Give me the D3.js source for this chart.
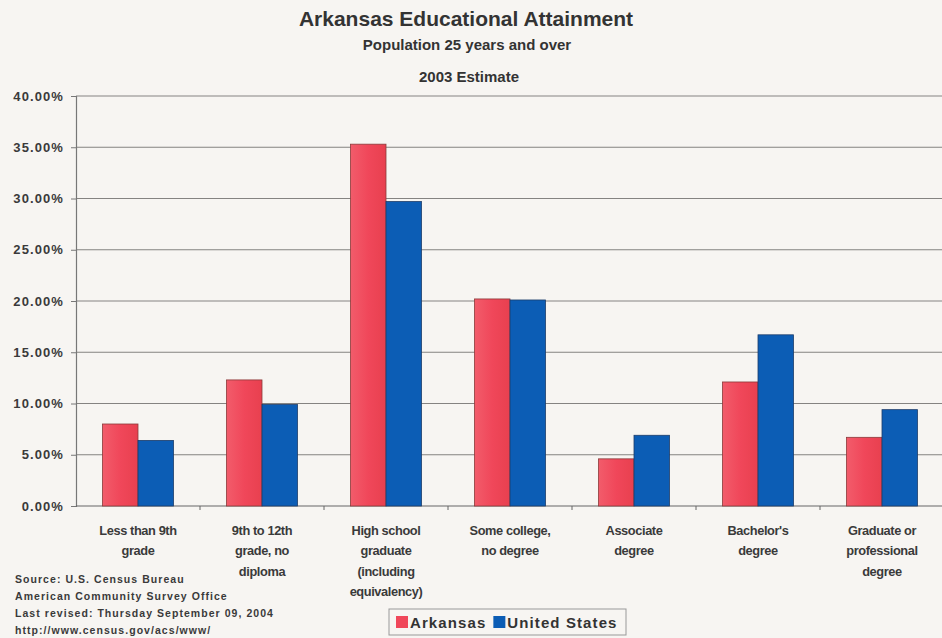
<!DOCTYPE html>
<html><head><meta charset="utf-8">
<script src="https://cdn.jsdelivr.net/npm/d3@7"></script>
<style>
html,body{margin:0;padding:0;background:#f7f5f2;}
svg{display:block;font-family:"Liberation Sans",Arial,sans-serif;}
</style></head>
<body><svg id="c" width="942" height="638"></svg>
<script>
const categories = [
  ["Less than 9th","grade"],
  ["9th to 12th","grade, no","diploma"],
  ["High school","graduate","(including","equivalency)"],
  ["Some college,","no degree"],
  ["Associate","degree"],
  ["Bachelor's","degree"],
  ["Graduate or","professional","degree"]
];
const seriesNames = ["Arkansas","United States"];
const arkansas = [0.080, 0.123, 0.353, 0.202, 0.046, 0.121, 0.067];
const unitedStates = [0.064, 0.099, 0.297, 0.201, 0.069, 0.167, 0.094];
const yTicks = [0,0.05,0.10,0.15,0.20,0.25,0.30,0.35,0.40];
const colors = ["#f0475a","#0c5db5"];
const sourceLines = ["Source: U.S. Census Bureau","American Community Survey Office","Last revised: Thursday September 09, 2004","http://www.census.gov/acs/www/"];

const svg = d3.select("#c");
const m = {left:76, right:942, top:96, bottom:506};
const x = d3.scaleBand().domain(d3.range(categories.length)).range([m.left, m.right+2]).paddingInner(0).paddingOuter(0);
const y = d3.scaleLinear().domain([0,0.40]).range([m.bottom, m.top]);
const barW = 35.5;

const defs = svg.append("defs");
const gr = defs.append("linearGradient").attr("id","gr").attr("x1","0").attr("x2","1");
gr.append("stop").attr("offset","0").attr("stop-color","#f25c6b");
gr.append("stop").attr("offset","0.5").attr("stop-color","#f0475a");
gr.append("stop").attr("offset","1").attr("stop-color","#e8404f");

// gridlines
svg.append("g").selectAll("line").data(yTicks.slice(1)).join("line")
  .attr("x1",m.left).attr("x2",m.right).attr("y1",d=>y(d)).attr("y2",d=>y(d))
  .attr("stroke","#858381").attr("stroke-width",1.2);

// y axis
const yAxis = d3.axisLeft(y).tickValues(yTicks).tickSize(5).tickFormat(d=>d3.format(".2f")(d*100)+"%");
const ga = svg.append("g").attr("transform",`translate(${m.left},0)`).call(yAxis);
ga.select(".domain").attr("stroke","#777").attr("stroke-width",1.2);
ga.selectAll(".tick line").attr("stroke","#777");
ga.selectAll("text").attr("font-size",13).attr("font-weight","bold").attr("fill","#3a3a3a")
  .attr("x",-12).attr("letter-spacing",1.1);

// x axis
svg.append("line").attr("x1",m.left).attr("x2",m.right).attr("y1",m.bottom).attr("y2",m.bottom).attr("stroke","#666").attr("stroke-width",1.2);
svg.append("g").selectAll("line").data(d3.range(1,categories.length)).join("line")
  .attr("x1",d=>x(d)).attr("x2",d=>x(d)).attr("y1",m.bottom).attr("y2",m.bottom+4).attr("stroke","#666");

// bars
const gb = svg.append("g");
categories.forEach((c,i)=>{
  const cx = x(i)+x.bandwidth()/2;
  [arkansas[i], unitedStates[i]].forEach((v,j)=>{
    gb.append("rect")
      .attr("x", j===0 ? cx-barW : cx)
      .attr("y", y(v)).attr("width", barW).attr("height", y(0)-y(v))
      .attr("fill", j===0 ? "url(#gr)" : colors[1])
      .attr("stroke", j===0 ? "#8a3a3a" : "#1d3d6a").attr("stroke-width",0.8);
  });
});

// category labels
const gl = svg.append("g");
categories.forEach((lines,i)=>{
  const cx = x(i)+x.bandwidth()/2;
  lines.forEach((t,k)=>{
    gl.append("text").attr("x",cx).attr("y",535+k*20.3).attr("text-anchor","middle")
      .attr("font-size",12.8).attr("font-weight","bold").attr("fill","#3a3a3a")
      .attr("letter-spacing",-0.4).text(t);
  });
});

// titles
svg.append("text").attr("x",466).attr("y",26).attr("text-anchor","middle").attr("font-size",21).attr("font-weight","bold").attr("fill","#333").text("Arkansas Educational Attainment");
svg.append("text").attr("x",467).attr("y",50).attr("text-anchor","middle").attr("font-size",15).attr("font-weight","bold").attr("fill","#333").text("Population 25 years and over");
svg.append("text").attr("x",469).attr("y",82).attr("text-anchor","middle").attr("font-size",15).attr("font-weight","bold").attr("fill","#333").text("2003 Estimate");

// source
sourceLines.forEach((t,k)=>{
  svg.append("text").attr("x",15).attr("y",583+k*17).attr("font-size",10.5).attr("font-weight","bold").attr("fill","#3a3a3a")
    .attr("letter-spacing",1.05).text(t);
});

// legend
const lg = svg.append("g");
lg.append("rect").attr("x",389).attr("y",609).attr("width",237).attr("height",26).attr("fill","#f7f5f2").attr("stroke","#999");
let lx = 396;
seriesNames.forEach((s,j)=>{
  lg.append("rect").attr("x",lx).attr("y",616).attr("width",12).attr("height",12).attr("fill",colors[j]);
  const t = lg.append("text").attr("x",lx+14).attr("y",628).attr("font-size",15).attr("font-weight","bold").attr("fill","#333")
    .attr("letter-spacing",1.1).text(s);
  lx += 14 + t.node().getComputedTextLength() + 7;
});
</script></body></html>
